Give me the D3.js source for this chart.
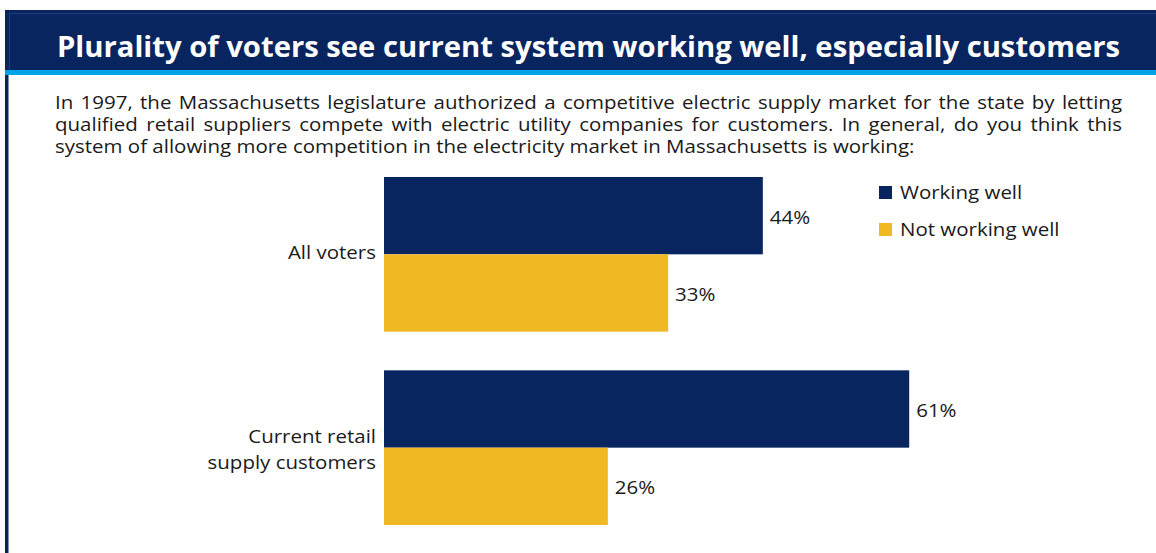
<!DOCTYPE html>
<html>
<head>
<meta charset="utf-8">
<script src="https://cdn.jsdelivr.net/npm/d3@7"></script>
<style>
  html, body { margin: 0; padding: 0; background: #ffffff; }
  svg { display: block; }
  text { font-family: "Open Sans", "Noto Sans", sans-serif; }
</style>
</head>
<body>
<svg id="chart" width="1156" height="553"></svg>
<script>
// Survey groups and answers (percent of respondents)
const categories = ["All voters", "Current retail supply customers"];
const categoryLines = [["All voters"], ["Current retail", "supply customers"]];
const seriesNames = ["Working well", "Not working well"];
const workingWellValues = [44, 61];
const notWorkingWellValues = [33, 26];

const title = "Plurality of voters see current system working well, especially customers";
const questionLines = [
  "In 1997, the Massachusetts legislature authorized a competitive electric supply market for the state by letting",
  "qualified retail suppliers compete with electric utility companies for customers. In general, do you think this",
  "system of allowing more competition in the electricity market in Massachusetts is working:"
];

const NAVY = "#08255F";
const GOLD = "#F0B823";
const SKY = "#00A3E8";
const INK = "#1a1a1a";
const BODY_SIZE = 17.5;
const WIDEN = 1.17; // horizontal stretch for the body face

const svg = d3.select("#chart");

// Stretch a text element horizontally by factor k (keeps its anchor)
function widen(sel, k) {
  sel.each(function () {
    const w = this.getComputedTextLength();
    d3.select(this).attr("textLength", w * k).attr("lengthAdjust", "spacingAndGlyphs");
  });
  return sel;
}

// Frame and header band
svg.append("rect").attr("x", 5).attr("y", 10).attr("width", 3.5).attr("height", 543).attr("fill", NAVY);
svg.append("rect").attr("x", 5).attr("y", 10).attr("width", 1151).attr("height", 60).attr("fill", NAVY);
svg.append("line").attr("x1", 9.5).attr("x2", 1156).attr("y1", 13.5).attr("y2", 13.5)
  .attr("stroke", "#1e3d78").attr("stroke-width", 1);
svg.append("line").attr("x1", 9.5).attr("x2", 9.5).attr("y1", 13.5).attr("y2", 70)
  .attr("stroke", "#1e3d78").attr("stroke-width", 1);
svg.append("rect").attr("x", 5).attr("y", 70).attr("width", 1151).attr("height", 5).attr("fill", SKY);

// Title
svg.append("text")
  .attr("x", 57).attr("y", 57)
  .attr("fill", "#ffffff")
  .attr("font-weight", 700)
  .attr("font-size", 29)
  .attr("textLength", 1063)
  .attr("lengthAdjust", "spacingAndGlyphs")
  .text(title);

// Question text, justified for all but the last line
const qLeft = 55, qRight = 1122;
questionLines.forEach((line, i) => {
  const t = svg.append("text")
    .attr("x", qLeft).attr("y", 109 + i * 22)
    .attr("fill", INK)
    .attr("font-size", BODY_SIZE)
    .text(line);
  const w0 = t.node().getComputedTextLength();
  if (i < questionLines.length - 1) {
    const gaps = line.split(" ").length - 1;
    const ws = ((qRight - qLeft) / WIDEN - w0) / gaps;
    t.style("word-spacing", ws + "px");
    t.attr("textLength", qRight - qLeft).attr("lengthAdjust", "spacingAndGlyphs");
  } else {
    t.attr("textLength", w0 * WIDEN).attr("lengthAdjust", "spacingAndGlyphs");
  }
});

// Scales
const x = d3.scaleLinear().domain([0, 70]).range([384, 384 + 70 * 8.61]);
const y0 = d3.scaleBand().domain(categories).range([177, 525]).paddingInner(0.2).paddingOuter(0);
const y1 = d3.scaleBand().domain(seriesNames).range([0, y0.bandwidth()]).padding(0);
const color = d3.scaleOrdinal().domain(seriesNames).range([NAVY, GOLD]);

const rows = categories.map((c, i) => ({
  category: c,
  lines: categoryLines[i],
  values: [
    { series: seriesNames[0], value: workingWellValues[i] },
    { series: seriesNames[1], value: notWorkingWellValues[i] }
  ]
}));

const groups = svg.append("g").selectAll("g")
  .data(rows)
  .join("g")
  .attr("transform", d => `translate(0,${y0(d.category)})`);

groups.selectAll("rect")
  .data(d => d.values)
  .join("rect")
  .attr("x", x(0))
  .attr("y", d => y1(d.series))
  .attr("width", d => x(d.value) - x(0))
  .attr("height", y1.bandwidth())
  .attr("fill", d => color(d.series));

widen(groups.selectAll("text.value")
  .data(d => d.values)
  .join("text")
  .attr("class", "value")
  .attr("x", d => x(d.value) + 7)
  .attr("y", d => y1(d.series) + y1.bandwidth() / 2 + 2)
  .attr("dy", "0.35em")
  .attr("fill", INK)
  .attr("font-size", BODY_SIZE)
  .text(d => d.value + "%"), WIDEN);

// Category labels
groups.each(function (d) {
  const g = d3.select(this);
  const mid = y0.bandwidth() / 2;
  const n = d.lines.length;
  d.lines.forEach((ln, j) => {
    widen(g.append("text")
      .attr("x", 376)
      .attr("y", mid + (j - (n - 1) / 2) * 26 + (n > 1 ? 2 : -1))
      .attr("dy", "0.35em")
      .attr("text-anchor", "end")
      .attr("fill", INK)
      .attr("font-size", BODY_SIZE)
      .text(ln), WIDEN);
  });
});

// Legend
const legend = svg.append("g").selectAll("g")
  .data(seriesNames)
  .join("g")
  .attr("transform", (d, i) => `translate(879,${186 + i * 37})`);
legend.append("rect")
  .attr("width", 13).attr("height", 13)
  .attr("fill", d => color(d));
widen(legend.append("text")
  .attr("x", 21).attr("y", 7)
  .attr("dy", "0.35em")
  .attr("fill", INK)
  .attr("font-size", BODY_SIZE)
  .text(d => d), WIDEN);
</script>
</body>
</html>
